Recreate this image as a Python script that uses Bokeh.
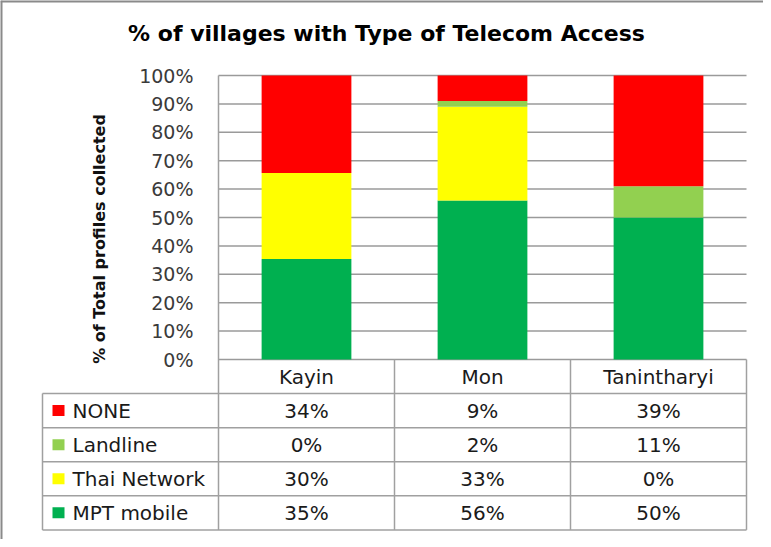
from bokeh.plotting import figure
from bokeh.models import (Range1d, LinearAxis, FixedTicker, NumeralTickFormatter,
                          ColumnDataSource, Label)
from bokeh.core.properties import value
from bokeh.embed import file_html
from bokeh.resources import INLINE

# ---------------- data ----------------
chart_title = "% of villages with Type of Telecom Access"
y_title = "% of Total profiles collected"
regions = ["Kayin", "Mon", "Tanintharyi"]
# stacking order: bottom -> top
series = ["MPT mobile", "Thai Network", "Landline", "NONE"]
mpt_mobile = [35, 56, 50]
thai_network = [30, 33, 0]
landline = [0, 2, 11]
none_access = [34, 9, 39]
series_colors = ["#00B050", "#FFFF00", "#92D050", "#FF0000"]
y_ticks = [0, 10, 20, 30, 40, 50, 60, 70, 80, 90, 100]

values = {"MPT mobile": mpt_mobile, "Thai Network": thai_network,
          "Landline": landline, "NONE": none_access}
color_of = dict(zip(series, series_colors))
table_rows = ["NONE", "Landline", "Thai Network", "MPT mobile"]  # top -> bottom in table

# ---------------- layout (reference pixels) ----------------
PAGE = 8
W, H = 763, 539
X0_PX, COL_PX = 226, 176      # x=0 at 226px, one category = 176px
Y0_PX, UNIT_PX = 367, 284     # y=0 at 367px, 100% = 284px


def px_x(px):
    return (px - X0_PX) / COL_PX


def px_y(py):
    return (Y0_PX - py) / UNIT_PX


ROW = 0.12
n = len(regions)
nrows = len(table_rows) + 1

x_lo, x_hi = px_x(PAGE), px_x(PAGE + W)
y_lo, y_hi = px_y(PAGE + H), px_y(PAGE)

p = figure(width=W, height=H, output_backend="svg", toolbar_location=None,
           title=None, x_axis_type=None, y_axis_type=None,
           x_range=Range1d(x_lo, x_hi), y_range=Range1d(y_lo, y_hi),
           min_border=0, min_border_left=0, min_border_right=0,
           min_border_top=0, min_border_bottom=0)
p.xgrid.visible = False
p.ygrid.visible = False
p.background_fill_color = "white"
p.border_fill_color = "white"
p.outline_line_color = None

# chart-area frame (left and top edges visible in the window)
p.segment(x0=[x_lo, x_lo], x1=[x_lo, x_hi], y0=[y_lo, y_hi], y1=[y_hi, y_hi],
          line_color="#8a8a8a", line_width=4)

# normalised (100% stacked) bar data
totals = [sum(values[s][i] for s in series) for i in range(n)]
data = {"x": [i + 0.5 for i in range(n)]}
for s in series:
    data[s] = [values[s][i] / totals[i] for i in range(n)]
src = ColumnDataSource(data)

# gridlines
tick_fracs = [t / 100 for t in y_ticks]
p.segment(x0=[0] * len(tick_fracs), x1=[n] * len(tick_fracs), y0=tick_fracs, y1=tick_fracs,
          line_color="#9a9a9a", line_width=1.5)

p.vbar_stack(series, x="x", width=0.51, source=src, color=series_colors, line_color=None)

# table lines
tl_color = "#a0a0a0"
hx0, hx1, hy = [], [], []
for k in range(1, nrows + 1):
    hx0.append(-1)
    hx1.append(n)
    hy.append(-k * ROW)
p.segment(x0=hx0, x1=hx1, y0=hy, y1=hy, line_color=tl_color, line_width=1.5)
vx = [-1, 0] + list(range(1, n + 1))
vy0 = [-ROW, 1.0] + [0] * n
vy1 = [-nrows * ROW] * len(vx)
p.segment(x0=vx, x1=vx, y0=vy0, y1=vy1, line_color=tl_color, line_width=1.5)

# y axis
yaxis = LinearAxis(fixed_location=0, ticker=FixedTicker(ticks=tick_fracs),
                   formatter=NumeralTickFormatter(format="0%"),
                   bounds=(-0.15, 1.0),
                   axis_line_color=None, major_tick_line_color=None,
                   minor_tick_line_color=None, major_label_standoff=19,
                   major_label_text_font="DejaVu Sans",
                   major_label_text_font_size="19px",
                   major_label_text_color="#3a3a3a",
                   axis_label=y_title, axis_label_standoff=27,
                   axis_label_text_font="DejaVu Sans",
                   axis_label_text_font_size="16px",
                   axis_label_text_font_style="bold",
                   axis_label_text_color="#111111")
p.add_layout(yaxis, "left")

font = value("DejaVu Sans")
# header row
p.text(x=[i + 0.5 for i in range(n)], y=[-ROW / 2] * n, text=regions,
       text_align="center", text_baseline="middle", text_font=font,
       text_font_size="20px", text_color="#1a1a1a")
# value rows
tx, ty, tt = [], [], []
for r, s in enumerate(table_rows):
    for i in range(n):
        tx.append(i + 0.5)
        ty.append(-(r + 1.5) * ROW)
        tt.append(f"{values[s][i]}%")
p.text(x=tx, y=ty, text=tt, text_align="center", text_baseline="middle",
       text_font=font, text_font_size="20px", text_color="#1a1a1a")

# legend keys + labels
ly = [-(r + 1.5) * ROW for r in range(len(table_rows))]
p.rect(x=[px_x(66)] * len(table_rows), y=ly, width=12, height=11,
       width_units="screen", height_units="screen",
       color=[color_of[s] for s in table_rows], line_color=None)
p.text(x=[px_x(80)] * len(table_rows), y=ly, text=table_rows, text_align="left",
       text_baseline="middle", text_font=font, text_font_size="20px",
       text_color="#1a1a1a")

p.add_layout(Label(x=px_x(394), y=px_y(41), text=chart_title, text_align="center",
                   text_baseline="middle", text_font="DejaVu Sans",
                   text_font_size="22px", text_font_style="bold", text_color="#000000"))

open("out.html", "w").write(file_html(p, INLINE))
